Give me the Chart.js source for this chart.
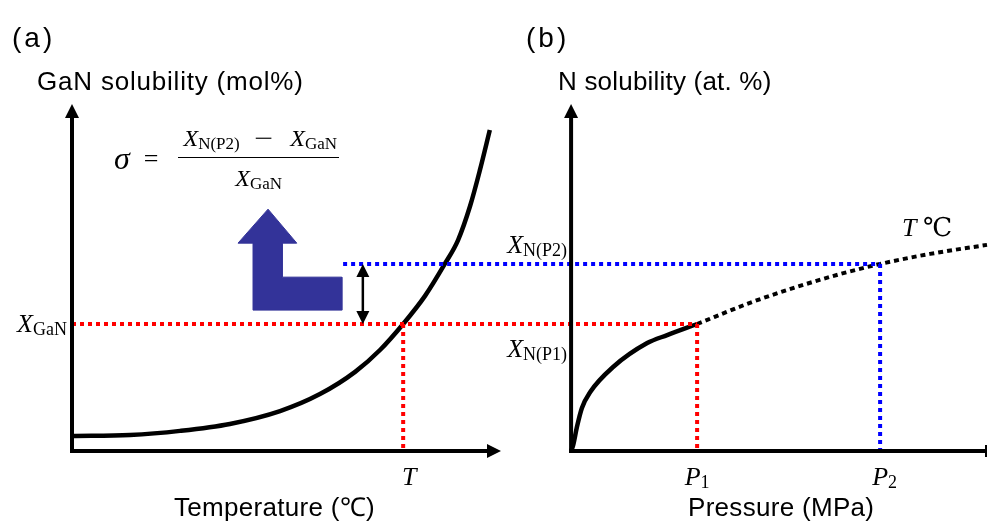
<!DOCTYPE html>
<html>
<head>
<meta charset="utf-8">
<script src="https://cdn.jsdelivr.net/npm/chart.js@4/dist/chart.umd.min.js"></script>
<style>
  body{margin:0;background:#fff;}
  #wrap{position:relative;width:988px;height:523px;overflow:hidden;font-family:"Liberation Sans",Arial,sans-serif;color:#000;}
  #chart{position:absolute;left:0;top:0;}
  .t{position:absolute;white-space:nowrap;font-size:26px;line-height:26px;}
  .m{position:absolute;white-space:nowrap;font-family:"Liberation Serif","DejaVu Serif",serif;font-size:26px;line-height:26px;}
  .m i{font-style:italic;}
  .m sub{font-size:18px;vertical-align:-3px;line-height:0;}
  #formula{position:absolute;left:114px;top:125px;display:flex;align-items:center;font-family:"Liberation Serif","DejaVu Serif",serif;font-size:24px;}
  #formula .sig{font-style:italic;font-size:32px;margin-right:14px;}
  #formula .eq{font-size:26px;margin-right:20px;}
  #formula .frac{display:inline-flex;flex-direction:column;align-items:center;}
  #formula .num{border-bottom:1.5px solid #000;padding:0 2px 5px 5px;}
  #formula .minus{margin:0 20px 0 17px;display:inline-block;transform:scaleX(1.4);}
  #formula .den{padding-top:7px;}
  #formula i{font-style:italic;}
  #formula sub{font-size:17px;vertical-align:-3px;line-height:0;}
</style>
</head>
<body>
<div id="wrap">
  <canvas id="chart" width="988" height="523"></canvas>
  <div class="t" style="left:12px;top:24px;font-size:28px;line-height:28px;letter-spacing:3px;">(a)</div>
  <div class="t" style="left:526px;top:24px;font-size:28px;line-height:28px;letter-spacing:3px;">(b)</div>
  <div class="t" style="left:37px;top:68px;letter-spacing:0.8px;">GaN solubility (mol%)</div>
  <div class="t" style="left:558px;top:68px;letter-spacing:0.2px;">N solubility (at. %)</div>
  <div class="t" style="left:174px;top:494px;letter-spacing:0.3px;">Temperature (℃)</div>
  <div class="t" style="left:688px;top:494px;letter-spacing:0.3px;">Pressure (MPa)</div>
  <div id="formula">
    <span class="sig">σ</span><span class="eq">=</span>
    <span class="frac">
      <span class="num"><i>X</i><sub>N(P2)</sub><span class="minus">−</span><i>X</i><sub>GaN</sub></span>
      <span class="den"><i>X</i><sub>GaN</sub></span>
    </span>
  </div>
  <div class="m" id="lblXGaN"><i>X</i><sub>GaN</sub></div>
  <div class="m" id="lblNP2"><i>X</i><sub>N(P2)</sub></div>
  <div class="m" id="lblNP1"><i>X</i><sub>N(P1)</sub></div>
  <div class="m" id="lblT"><i>T</i></div>
  <div class="m" id="lblP1"><i>P</i><sub>1</sub></div>
  <div class="m" id="lblP2"><i>P</i><sub>2</sub></div>
  <div class="m" id="lblTC"><i>T</i> ℃</div>
</div>
<script>
// (a) GaN solubility vs temperature (arbitrary units)
const tempA = [0, 13.5, 25.2, 36.8, 48.5, 57.8, 66.0, 71.8, 77.2, 82.3, 86.9, 90.0, 92.8, 95.1, 97.4];
const solA  = [4.3, 4.6, 5.8, 7.8, 11.5, 16.4, 22.8, 29.1, 36.6, 44.7, 53.9, 60.8, 70.6, 81.0, 92.5];

// (b) N solubility vs pressure, measured part (solid) and extrapolated part (dotted)
const presSolid = [0, 0.5, 1.4, 2.6, 4.6, 10.1, 18.3, 23.1, 30.3];
const solSolid  = [0, 1.7, 6.9, 12.4, 17.0, 24.2, 31.1, 33.4, 36.6];
const presDot   = [30.3, 43.0, 54.3, 64.7, 74.3, 86.3, 100];
const solDot    = [36.6, 42.7, 47.3, 51.0, 53.9, 56.8, 59.4];

// marked levels
const X_GAN = 36.6;      // = X_N(P1)
const X_NP2 = 53.9;
const T_MARK = 77.2;
const P1 = 30.3, P2 = 74.3;
const BLUE_START_T = 63.2;
const GAP_ARROW_T = 67.8;

// blue "raise" arrow outline, in (temperature, solubility) units
const upArrowT = [42.2, 38.7, 45.7, 52.4, 49.0, 49.0, 62.9, 62.9, 42.2, 42.2];
const upArrowY = [59.9, 59.9, 69.7, 59.9, 59.9, 50.1, 50.1, 40.6, 40.6, 59.9];

// axis extents (arrow tips) and scale ranges
const AX_END = 100;
const T_MAX = 213.3;
const P_MIN = -120, P_MAX = 100;
const tToP = t => P_MIN + t / T_MAX * (P_MAX - P_MIN);

const RED = "#ff0000", BLUE = "#0000ff", NAVY = "#333399";

const pts = (xs, ys) => xs.map((x, i) => ({x, y: ys[i]}));
const seg = (x1, y1, x2, y2) => [{x: x1, y: y1}, {x: x2, y: y2}];

function arrowLine(ctx, x1, y1, x2, y2, w, hl, hw){
  const a = Math.atan2(y2 - y1, x2 - x1);
  ctx.lineWidth = w;
  ctx.beginPath();
  ctx.moveTo(x1, y1);
  ctx.lineTo(x2 - Math.cos(a) * hl * 0.8, y2 - Math.sin(a) * hl * 0.8);
  ctx.stroke();
  ctx.beginPath();
  ctx.moveTo(x2, y2);
  ctx.lineTo(x2 - Math.cos(a) * hl + Math.sin(a) * hw / 2, y2 - Math.sin(a) * hl - Math.cos(a) * hw / 2);
  ctx.lineTo(x2 - Math.cos(a) * hl - Math.sin(a) * hw / 2, y2 - Math.sin(a) * hl + Math.cos(a) * hw / 2);
  ctx.closePath();
  ctx.fill();
}

const axesPlugin = {
  id: "axesPlugin",
  afterDatasetsDraw(chart){
    const {ctx, scales: {xT, xP, y}} = chart;
    ctx.save();
    ctx.strokeStyle = "#000"; ctx.fillStyle = "#000"; ctx.lineCap = "butt";
    const y0 = y.getPixelForValue(0), yTop = y.getPixelForValue(AX_END);
    // (a) axes
    const a0 = xT.getPixelForValue(0);
    arrowLine(ctx, a0, y0 + 2, a0, yTop, 4, 14, 14);
    arrowLine(ctx, a0 - 2, y0, xT.getPixelForValue(AX_END), y0, 4, 14, 14);
    // (b) axes
    const b0 = xP.getPixelForValue(0);
    arrowLine(ctx, b0, y0 + 2, b0, yTop, 4, 14, 14);
    ctx.lineWidth = 4;
    ctx.beginPath(); ctx.moveTo(b0 - 2, y0); ctx.lineTo(xP.getPixelForValue(AX_END), y0); ctx.stroke();
    ctx.lineWidth = 2;
    ctx.beginPath(); ctx.moveTo(xP.getPixelForValue(AX_END) - 1, y0 - 6); ctx.lineTo(xP.getPixelForValue(AX_END) - 1, y0 + 6); ctx.stroke();
    // gap between X_GaN and X_N(P2)
    const gx = xT.getPixelForValue(GAP_ARROW_T);
    const yl = y.getPixelForValue(X_GAN), yh = y.getPixelForValue(X_NP2);
    const ym = (yl + yh) / 2;
    arrowLine(ctx, gx, ym, gx, yh, 2.5, 13, 13);
    arrowLine(ctx, gx, ym, gx, yl, 2.5, 13, 13);
    ctx.restore();
  }
};

const guide = (data, color, axis, order) => ({
  data, xAxisID: axis, showLine: true, borderColor: color, borderWidth: 4,
  borderDash: [4, 4], pointRadius: 0, clip: false, order
});

const chart = new Chart(document.getElementById("chart"), {
  type: "scatter",
  data: {
    datasets: [
      guide(seg(P_MIN, X_GAN, P1, X_GAN), RED, "xP", 1),
      guide(seg(tToP(BLUE_START_T), X_NP2, P2, X_NP2), BLUE, "xP", 1),
      guide(seg(T_MARK, X_GAN, T_MARK, 0), RED, "xT", 1),
      guide(seg(P1, X_GAN, P1, 0), RED, "xP", 1),
      guide(seg(P2, X_NP2, P2, 0), BLUE, "xP", 1),
      {data: pts(tempA, solA), xAxisID: "xT", showLine: true, borderColor: "#000", borderWidth: 4.5,
       cubicInterpolationMode: "monotone", pointRadius: 0, clip: false, order: 2},
      {data: pts(presSolid, solSolid), xAxisID: "xP", showLine: true, borderColor: "#000", borderWidth: 4.5,
       cubicInterpolationMode: "monotone", pointRadius: 0, clip: false, order: 2},
      {data: pts(presDot, solDot), xAxisID: "xP", showLine: true, borderColor: "#000", borderWidth: 4,
       borderDash: [5, 4], cubicInterpolationMode: "monotone", pointRadius: 0, clip: false, order: 2},
      {data: pts(upArrowT, upArrowY), xAxisID: "xT", showLine: true, borderColor: NAVY, backgroundColor: NAVY,
       borderWidth: 1, fill: "shape", tension: 0, pointRadius: 0, clip: false, order: 3}
    ]
  },
  options: {
    responsive: false,
    animation: false,
    devicePixelRatio: 1,
    layout: {padding: {left: 72, right: 1, top: 104, bottom: 72}},
    plugins: {legend: {display: false}, tooltip: {enabled: false}},
    scales: {
      xT: {type: "linear", position: "bottom", min: 0, max: T_MAX, display: false},
      xP: {type: "linear", position: "bottom", min: P_MIN, max: P_MAX, display: false},
      y: {type: "linear", min: 0, max: AX_END, display: false}
    }
  },
  plugins: [axesPlugin]
});

// place the value labels next to the marks they name
function place(id, x, y, tx, ty){
  const el = document.getElementById(id);
  el.style.left = x + "px"; el.style.top = y + "px";
  el.style.transform = `translate(${tx}%, ${ty}%)`;
}
const {xT, xP, y} = chart.scales;
place("lblXGaN", xT.getPixelForValue(0) - 5, y.getPixelForValue(X_GAN), -100, -50);
place("lblNP2", xP.getPixelForValue(0) - 4, y.getPixelForValue(X_NP2) - 6, -100, -100);
place("lblNP1", xP.getPixelForValue(0) - 4, y.getPixelForValue(X_GAN) + 12, -100, 0);
place("lblT", xT.getPixelForValue(T_MARK) + 6, y.getPixelForValue(0) + 13, -50, 0);
place("lblP1", xP.getPixelForValue(P1), y.getPixelForValue(0) + 13, -50, 0);
place("lblP2", xP.getPixelForValue(P2) + 2, y.getPixelForValue(0) + 13, -40, 0);
place("lblTC", xP.getPixelForValue(P2) + 22, y.getPixelForValue(X_NP2) - 23, 0, -100);
</script>
</body>
</html>
